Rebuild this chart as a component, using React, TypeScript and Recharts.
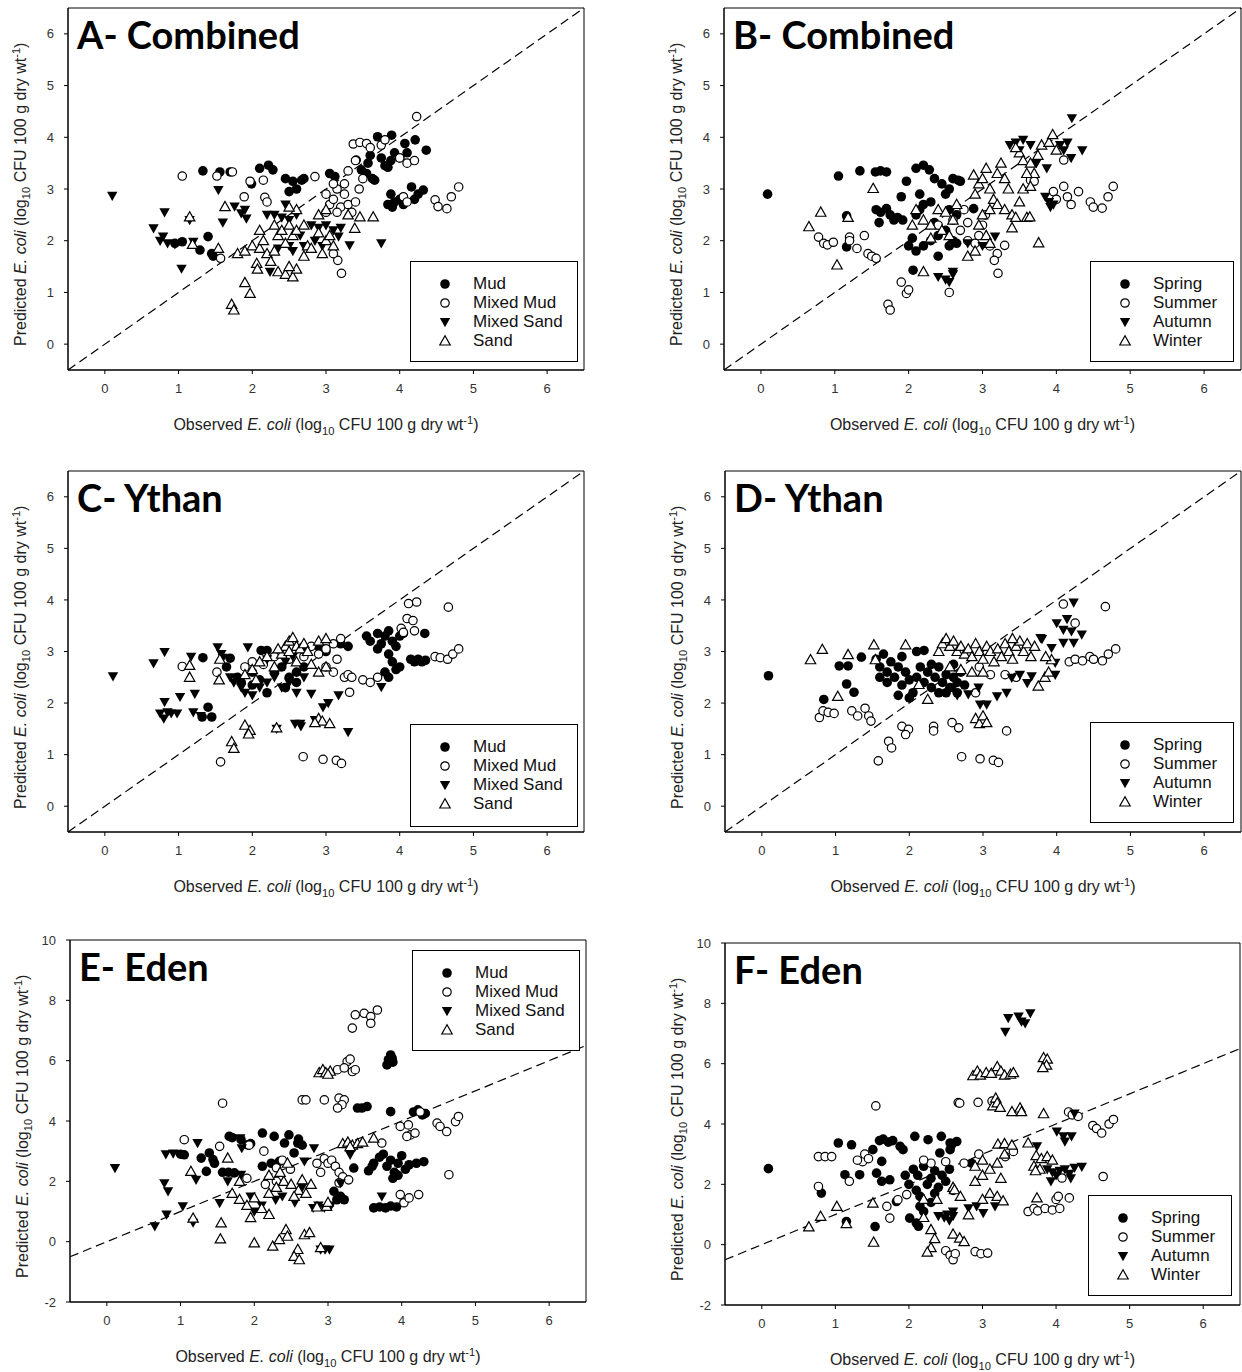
import React from 'react';
import { ScatterChart, Scatter, XAxis, YAxis, ReferenceLine, ReferenceArea } from 'recharts';

type Pt = [number, number];

const xTicks = [0, 1, 2, 3, 4, 5, 6];
const yTicksSmall = [0, 1, 2, 3, 4, 5, 6];
const yTicksEden = [-2, 0, 2, 4, 6, 8, 10];
const sedimentNames = ['Mud', 'Mixed Mud', 'Mixed Sand', 'Sand'];
const seasonNames = ['Spring', 'Summer', 'Autumn', 'Winter'];

// ---- A: combined model, by sediment ----
const combinedMud: Pt[] = [
  [1.33, 3.35], [1.56, 3.33], [1.7, 3.33], [1.4, 2.08], [1.29, 1.82], [1.45, 1.75], [1.47, 1.7], [0.95, 1.95], [1.05, 1.98],
  [2.1, 3.4], [2.22, 3.46], [2.28, 3.37], [1.99, 3.1], [2.45, 3.2], [2.55, 3.15], [2.6, 3.0], [2.7, 3.2], [2.5, 2.95],
  [2.67, 3.17], [3.05, 3.3], [3.12, 3.24], [3.41, 3.56], [3.48, 3.37], [3.57, 3.5], [3.63, 3.2], [3.66, 3.17],
  [3.7, 4.01], [3.89, 4.04], [4.07, 3.88], [4.21, 3.95], [4.36, 3.75], [3.84, 3.42], [3.88, 3.55], [3.93, 3.7],
  [3.75, 3.6], [3.8, 3.45], [4.0, 3.6], [4.1, 3.7], [3.6, 3.65], [3.55, 3.3],
  [3.84, 2.7], [3.88, 2.9], [3.93, 2.75], [3.9, 2.65], [4.0, 2.8], [4.05, 2.7], [4.16, 3.04], [4.32, 2.98], [4.2, 2.8], [4.25, 2.9],
];
const combinedMixedMud: Pt[] = [
  [1.05, 3.25], [1.52, 3.25], [1.73, 3.33], [1.57, 1.66], [1.89, 2.85], [1.97, 3.15], [2.17, 2.84], [2.15, 3.17], [2.2, 2.75],
  [2.85, 3.24], [3.0, 2.9], [3.05, 2.7], [3.1, 2.8], [3.15, 3.0], [3.2, 2.65], [3.25, 2.9], [3.3, 2.7], [3.35, 2.55],
  [3.4, 2.75], [3.15, 2.55], [3.25, 3.1], [3.3, 3.35], [3.4, 3.55], [3.45, 3.0], [3.5, 3.2], [3.1, 3.1], [3.0, 2.55],
  [3.37, 3.87], [3.46, 3.9], [3.55, 3.88], [3.6, 3.8], [3.75, 3.85], [3.8, 3.95], [4.0, 3.6], [4.1, 3.5], [4.2, 3.55], [4.23, 4.4],
  [4.48, 2.79], [4.52, 2.66], [4.64, 2.62], [4.7, 2.85], [4.8, 3.04], [4.05, 2.85], [4.1, 2.75],
  [3.16, 1.62], [3.21, 1.37], [3.1, 1.75],
];
const combinedMixedSand: Pt[] = [
  [0.1, 2.87], [0.81, 2.55], [0.66, 2.24], [0.79, 2.08], [0.75, 2.0], [0.85, 1.95], [0.95, 1.93], [1.04, 1.46], [1.2, 1.98],
  [1.54, 2.98], [1.6, 2.35], [1.76, 2.66], [1.85, 2.53], [1.92, 2.43], [1.9, 2.6], [2.24, 1.4], [1.15, 2.4],
  [2.3, 2.5], [2.4, 2.45], [2.5, 2.4], [2.6, 2.5], [2.45, 2.7], [2.2, 2.5], [2.5, 1.9], [2.55, 1.8], [2.7, 1.9], [2.35, 1.85], [2.65, 2.1],
  [2.8, 2.3], [2.9, 2.25], [3.0, 2.3], [3.1, 2.2], [3.2, 2.25], [3.17, 2.08], [3.32, 1.91], [3.75, 1.95], [2.85, 2.0], [2.95, 1.9],
];
const combinedSand: Pt[] = [
  [1.15, 2.46], [1.19, 1.93], [1.54, 1.85], [1.63, 2.66], [1.9, 1.19], [1.97, 0.98], [1.72, 0.77], [1.75, 0.66], [2.06, 1.56], [2.07, 1.45],
  [1.8, 1.75], [1.9, 1.8], [2.0, 1.9], [2.1, 1.85], [2.15, 2.0], [2.2, 1.75], [2.3, 1.8], [2.35, 2.1], [2.4, 2.2], [2.5, 2.3],
  [2.55, 2.1], [2.6, 2.2], [2.3, 2.3], [2.1, 2.2], [2.45, 1.95], [2.25, 1.6], [2.35, 1.4], [2.45, 1.35], [2.55, 1.3], [2.6, 1.45],
  [2.5, 1.5], [2.7, 1.7], [2.75, 1.9], [2.6, 2.6], [2.5, 2.65], [2.7, 2.3], [2.9, 2.15], [3.0, 2.0], [3.1, 1.9], [2.8, 1.85],
  [2.95, 1.75], [3.05, 2.1], [3.46, 2.46], [3.64, 2.46], [3.39, 2.24], [3.3, 2.5], [2.9, 2.5], [3.0, 2.6],
];

// ---- B: combined model, by season ----
const combinedSpring: Pt[] = [
  [0.09, 2.9], [1.05, 3.25], [1.34, 3.35], [1.55, 3.33], [1.62, 3.35], [1.7, 3.33], [1.16, 2.48], [1.16, 1.88],
  [1.56, 2.6], [1.62, 2.55], [1.7, 2.62], [1.75, 2.5], [1.8, 2.4], [1.85, 2.45], [1.92, 2.4], [1.6, 2.35],
  [1.9, 2.85], [1.97, 3.15], [2.1, 3.4], [2.2, 3.46], [2.28, 3.37], [2.15, 2.9], [2.2, 2.7], [2.15, 2.6], [2.1, 2.5],
  [2.06, 1.43], [2.0, 1.9], [2.05, 2.05], [2.1, 1.8], [2.2, 1.9], [2.3, 2.0], [2.35, 2.35], [2.4, 2.1], [2.5, 2.2],
  [2.55, 2.6], [2.5, 2.9], [2.45, 3.1], [2.6, 3.2], [2.7, 3.15], [2.55, 3.0], [2.35, 3.2], [2.65, 2.5], [2.55, 1.9],
  [2.4, 1.7], [2.67, 3.17], [2.88, 2.62], [2.6, 2.0], [2.65, 1.95], [2.3, 2.75],
];
const combinedSummer: Pt[] = [
  [0.78, 2.07], [0.85, 1.95], [0.9, 1.92], [0.98, 1.97], [1.2, 2.07], [1.3, 1.85], [1.4, 2.1], [1.45, 1.75], [1.5, 1.7], [1.56, 1.66],
  [1.9, 1.2], [1.97, 0.98], [2.0, 1.05], [1.72, 0.77], [1.75, 0.66], [2.55, 1.0], [2.4, 2.3], [2.6, 2.4], [2.7, 2.2], [2.8, 2.0],
  [2.9, 1.95], [3.1, 1.9], [3.2, 1.75], [3.16, 1.62], [3.21, 1.37], [3.0, 2.3], [2.75, 2.6], [2.95, 2.1],
  [3.65, 3.17], [3.7, 3.15], [3.96, 2.95], [4.0, 2.8], [4.1, 3.05], [4.15, 2.85], [4.2, 2.7], [4.3, 2.95],
  [4.46, 2.75], [4.5, 2.65], [4.62, 2.63], [4.7, 2.85], [4.77, 3.05], [3.3, 1.91], [3.04, 2.5], [2.8, 2.35], [4.1, 3.56], [1.2, 2.0],
];
const combinedAutumn: Pt[] = [
  [2.4, 1.3], [2.5, 1.25], [2.55, 1.2], [2.6, 1.35], [4.21, 4.37], [3.37, 3.85], [3.45, 3.9], [3.55, 3.95], [3.65, 3.85],
  [3.5, 3.75], [4.1, 3.75], [4.15, 3.9], [4.35, 3.75], [4.2, 3.6], [4.05, 3.85], [3.87, 3.4], [3.85, 2.85], [3.9, 2.75],
  [3.92, 2.65], [3.96, 2.7], [3.17, 2.08], [2.6, 1.4], [2.8, 1.95], [3.0, 1.9], [3.73, 3.5],
];
const combinedWinter: Pt[] = [
  [1.52, 3.01], [0.81, 2.55], [0.65, 2.27], [1.03, 1.53], [1.18, 2.45], [2.1, 2.6], [2.2, 2.4], [2.05, 2.3], [2.3, 2.3],
  [2.4, 2.6], [2.5, 2.55], [2.6, 2.4], [2.65, 2.7], [2.45, 2.2], [2.2, 1.4], [2.3, 2.05], [2.55, 2.1], [2.88, 3.27],
  [2.9, 2.9], [2.95, 3.1], [3.0, 3.2], [3.05, 3.4], [3.1, 3.0], [3.15, 2.8], [3.2, 3.3], [3.25, 3.5], [3.3, 3.2],
  [3.35, 3.0], [3.2, 2.7], [3.3, 2.6], [3.1, 2.6], [3.4, 2.5], [3.45, 2.45], [3.6, 2.45], [3.4, 2.25], [3.0, 2.5],
  [2.95, 2.3], [3.05, 2.1], [3.1, 1.95], [2.9, 1.8], [2.8, 1.7], [3.7, 3.3], [3.75, 3.65], [3.5, 3.7], [3.55, 3.55],
  [3.45, 3.8], [3.8, 3.85], [3.9, 3.9], [3.95, 4.05], [4.0, 3.75], [3.65, 3.5], [3.6, 3.3], [3.55, 3.0], [3.5, 2.75],
  [3.65, 3.05], [3.76, 1.96], [3.64, 2.46],
];

// ---- C: Ythan model, by sediment ----
const ythanMud: Pt[] = [
  [1.33, 2.88], [1.65, 2.7], [1.7, 2.87], [1.4, 1.92], [1.45, 1.73], [1.32, 1.73], [2.12, 3.02], [2.2, 3.02],
  [1.8, 2.5], [1.85, 2.4], [2.0, 2.35], [2.1, 2.45], [2.3, 2.6], [2.4, 2.7], [2.5, 2.5], [2.6, 2.6], [2.7, 2.7],
  [2.6, 2.4], [2.45, 2.3], [2.2, 2.2], [2.0, 2.6], [2.9, 3.1], [3.0, 3.0], [3.2, 3.15], [3.3, 3.1], [3.55, 3.3],
  [3.6, 3.2], [3.7, 3.35], [3.75, 3.15], [3.8, 3.3], [3.85, 3.4], [3.9, 3.2], [3.95, 3.1], [4.0, 3.3], [4.05, 3.35],
  [4.34, 3.35], [3.7, 3.05], [3.85, 2.95], [3.9, 2.8], [3.95, 2.65], [3.8, 2.6], [3.85, 2.5], [4.0, 2.7],
  [4.15, 2.85], [4.2, 2.8], [4.25, 2.85], [4.3, 2.8], [4.35, 2.83],
];
const ythanMixedMud: Pt[] = [
  [1.05, 2.71], [1.52, 2.6], [1.9, 2.7], [1.57, 0.86], [2.0, 2.8], [2.15, 2.75], [2.3, 2.9], [2.5, 2.85], [2.7, 2.9],
  [2.8, 3.1], [2.9, 2.95], [3.0, 3.05], [3.1, 3.15], [3.2, 3.25], [3.15, 2.85], [3.0, 2.7], [3.1, 2.6], [3.25, 2.5],
  [3.3, 2.55], [3.35, 2.5], [3.5, 2.45], [3.6, 2.4], [3.7, 2.5], [3.32, 2.21], [4.12, 3.93], [4.23, 3.96], [4.66, 3.86],
  [4.02, 3.45], [4.1, 3.64], [4.18, 3.6], [4.05, 3.37], [4.2, 3.4], [4.48, 2.9], [4.55, 2.88], [4.65, 2.85], [4.72, 2.95],
  [4.8, 3.05], [2.69, 0.96], [2.96, 0.91], [3.14, 0.89], [3.21, 0.83],
];
const ythanMixedSand: Pt[] = [
  [0.11, 2.52], [0.66, 2.77], [0.81, 2.99], [1.17, 2.9], [1.53, 3.08], [1.58, 2.95], [1.6, 2.88], [1.94, 3.08],
  [0.81, 2.02], [1.02, 2.12], [1.22, 2.18], [0.75, 1.8], [0.8, 1.7], [0.85, 1.82], [0.9, 1.8], [0.98, 1.8],
  [1.2, 1.82], [1.3, 1.75], [2.33, 1.5], [2.58, 1.6], [1.7, 2.5], [1.75, 2.4], [1.85, 2.3], [1.9, 2.2], [2.0, 2.15],
  [2.1, 2.3], [2.2, 2.4], [2.3, 2.5], [2.4, 2.3], [2.5, 2.4], [2.6, 2.2], [2.55, 2.9], [2.7, 2.5], [2.8, 2.18],
  [3.17, 2.15], [2.96, 1.92], [3.03, 2.0], [2.85, 1.67], [3.3, 1.44], [2.65, 1.6], [2.66, 1.55], [3.75, 2.31],
  [2.7, 3.0], [2.45, 2.8], [2.2, 2.85],
];
const ythanSand: Pt[] = [
  [1.15, 2.73], [1.15, 2.5], [1.55, 2.45], [1.56, 2.85], [1.9, 1.57], [1.97, 1.47], [1.95, 1.4], [1.72, 1.25], [1.75, 1.12],
  [2.33, 1.52], [2.4, 2.95], [2.45, 3.1], [2.5, 3.2], [2.55, 3.27], [2.6, 3.1], [2.65, 3.05], [2.7, 3.15], [2.75, 3.0],
  [2.5, 3.0], [2.35, 3.05], [2.2, 2.9], [2.1, 2.8], [2.0, 2.65], [1.9, 2.55], [2.05, 2.45], [2.3, 2.7], [2.6, 2.8],
  [2.8, 2.75], [2.9, 2.6], [3.0, 2.7], [2.9, 1.7], [2.95, 1.65], [3.05, 1.6], [2.85, 1.62], [2.9, 3.2], [3.0, 3.25],
];

// ---- D: Ythan model, by season ----
const ythanSpring: Pt[] = [
  [0.09, 2.53], [1.05, 2.72], [1.17, 2.72], [1.15, 2.37], [1.25, 2.21], [0.84, 2.07], [1.35, 2.89],
  [1.55, 2.85], [1.6, 2.7], [1.65, 2.95], [1.7, 2.6], [1.75, 2.8], [1.6, 2.5], [1.7, 2.4], [1.8, 2.5], [1.85, 2.7],
  [1.9, 2.35], [1.95, 2.6], [2.0, 2.45], [2.05, 2.2], [2.1, 2.5], [2.15, 2.7], [2.2, 2.4], [2.25, 2.6], [2.3, 2.3],
  [2.35, 2.5], [2.4, 2.7], [2.45, 2.4], [2.5, 2.55], [2.55, 2.3], [2.6, 2.5], [2.65, 2.4], [2.1, 3.0], [2.2, 3.02],
  [1.85, 2.15], [2.0, 2.1], [2.4, 2.2], [2.5, 2.2], [2.6, 2.75], [2.3, 2.75], [1.9, 2.9], [2.7, 2.6], [2.75, 2.35], [2.65, 2.2],
];
const ythanSummer: Pt[] = [
  [0.78, 1.72], [0.83, 1.85], [0.9, 1.82], [0.98, 1.8], [1.22, 1.85], [1.3, 1.75], [1.4, 1.9], [1.45, 1.75], [1.48, 1.65],
  [1.9, 1.55], [1.99, 1.49], [1.95, 1.39], [1.72, 1.26], [1.76, 1.13], [2.33, 1.55], [2.33, 1.46], [2.58, 1.62], [1.58, 0.88],
  [2.67, 1.52], [3.32, 1.46], [2.71, 0.96], [2.96, 0.92], [3.14, 0.89], [3.21, 0.85], [4.09, 3.92], [4.66, 3.87], [4.25, 3.55],
  [4.17, 2.8], [4.25, 2.85], [4.35, 2.82], [4.45, 2.9], [4.5, 2.85], [4.62, 2.82], [4.7, 2.95], [4.8, 3.05],
  [2.95, 2.7], [3.1, 2.55], [3.3, 2.55], [3.45, 2.5], [2.9, 2.2],
];
const ythanAutumn: Pt[] = [
  [4.23, 3.95], [4.14, 3.63], [4.0, 3.55], [4.09, 3.42], [4.2, 3.39], [4.34, 3.33], [4.23, 3.17], [4.09, 3.17], [3.93, 3.07],
  [3.78, 3.26], [3.8, 3.24], [3.98, 2.78], [3.98, 2.55], [3.5, 2.55], [3.6, 2.39], [3.66, 2.52], [3.39, 2.49], [2.94, 2.3],
  [3.19, 2.13], [3.32, 2.2], [2.8, 2.17], [2.96, 1.97], [3.05, 1.97], [2.6, 2.3], [2.65, 2.15],
];
const ythanWinter: Pt[] = [
  [0.66, 2.84], [0.82, 3.04], [1.17, 2.94], [1.52, 3.13], [1.95, 3.13], [1.54, 2.84], [1.03, 2.13], [2.25, 2.07], [2.13, 2.36],
  [2.4, 3.0], [2.45, 3.15], [2.5, 3.25], [2.55, 3.1], [2.6, 3.2], [2.65, 3.0], [2.7, 3.1], [2.75, 2.95], [2.8, 3.05],
  [2.85, 2.9], [2.9, 3.15], [2.95, 3.0], [3.0, 2.85], [3.05, 3.1], [3.1, 3.0], [3.15, 2.8], [3.2, 3.05], [3.25, 2.9],
  [3.3, 3.15], [3.35, 3.0], [3.4, 2.85], [3.45, 3.1], [3.5, 3.2], [3.55, 3.0], [3.6, 3.15], [3.65, 2.9], [3.7, 3.1],
  [3.4, 3.25], [3.0, 2.6], [2.85, 2.6], [3.75, 2.33], [3.84, 2.5], [3.89, 2.6], [3.93, 2.84], [3.85, 2.9],
  [2.9, 1.7], [2.95, 1.6], [3.0, 1.75], [3.05, 1.62], [2.55, 2.7], [2.7, 2.65],
];

// ---- E: Eden model, by sediment ----
const edenMud: Pt[] = [
  [1.0, 2.9], [1.05, 2.88], [1.28, 2.77], [1.39, 2.94], [1.44, 2.72], [1.46, 2.6], [1.35, 2.33], [1.66, 3.49], [1.7, 3.45],
  [1.57, 2.3], [1.65, 2.3], [1.73, 2.28], [1.82, 3.38], [1.91, 3.21], [1.95, 3.25], [2.11, 3.6], [2.27, 3.49], [2.47, 3.54],
  [2.59, 3.27], [2.41, 3.27], [2.54, 2.94], [2.11, 2.5], [2.23, 2.6], [2.34, 2.66], [2.6, 3.4], [2.65, 3.2],
  [3.4, 4.43], [3.46, 4.43], [3.53, 4.48], [3.85, 4.31], [4.16, 4.3], [4.22, 4.37], [4.28, 4.2], [4.32, 4.25],
  [3.85, 6.19], [3.82, 6.03], [3.8, 5.86], [3.87, 6.08], [3.88, 5.95],
  [3.62, 2.6], [3.7, 2.8], [3.75, 2.9], [3.8, 2.5], [3.85, 2.7], [3.9, 2.3], [3.95, 2.6], [4.0, 2.85], [4.05, 2.4],
  [4.1, 2.55], [4.2, 2.6], [4.3, 2.65], [3.88, 2.1], [3.95, 2.2], [3.35, 2.44], [3.55, 2.35], [3.6, 2.5],
  [3.08, 1.67], [3.17, 1.5], [3.22, 1.39], [3.12, 1.39], [3.62, 1.12], [3.7, 1.15], [3.78, 1.12], [3.85, 1.18], [3.93, 1.15],
];
const edenMixedMud: Pt[] = [
  [1.05, 3.38], [1.57, 4.59], [2.65, 4.7], [1.53, 3.16], [1.93, 3.2], [2.13, 3.0], [2.3, 2.45], [2.38, 2.7], [2.49, 2.4],
  [2.15, 1.9], [2.3, 2.0], [1.9, 2.1], [3.37, 7.52], [3.49, 7.57], [3.58, 7.46], [3.67, 7.68], [3.58, 7.24], [3.33, 7.08],
  [3.13, 5.7], [3.26, 5.97], [3.22, 5.76], [3.33, 5.64], [3.37, 5.7], [3.3, 6.05], [2.7, 4.7], [2.95, 4.7], [3.15, 4.76],
  [3.22, 4.7], [3.19, 4.54], [3.13, 4.43], [4.25, 4.3], [4.48, 3.93], [4.52, 3.82], [4.61, 3.65], [4.73, 3.98], [4.77, 4.15],
  [3.98, 3.82], [4.09, 3.87], [4.12, 3.54], [4.18, 3.6], [4.07, 3.49], [3.73, 3.27], [4.64, 2.22],
  [2.85, 2.6], [2.95, 2.75], [3.0, 2.6], [3.05, 2.7], [3.1, 2.5], [3.15, 2.3], [3.2, 2.15], [3.28, 2.05], [2.9, 2.3], [3.15, 1.95],
  [3.98, 1.56], [4.03, 1.29], [4.23, 1.56], [4.1, 1.45],
];
const edenMixedSand: Pt[] = [
  [0.11, 2.44], [1.23, 3.27], [0.8, 2.9], [0.9, 2.92], [1.81, 3.43], [1.83, 3.1], [1.82, 2.22], [1.64, 2.0], [1.21, 2.05],
  [0.78, 1.94], [0.83, 1.67], [1.03, 1.17], [0.81, 0.9], [0.65, 0.51], [1.17, 0.63], [1.53, 1.28], [2.29, 1.39], [2.38, 1.5],
  [2.0, 1.0], [2.1, 1.2], [1.95, 1.5], [2.81, 3.1], [2.68, 2.66], [3.3, 2.88], [3.17, 1.94], [3.73, 1.5], [2.8, 1.12],
  [2.87, 1.2], [2.95, 1.12], [3.04, 1.2], [2.9, -0.26], [2.96, -0.26], [3.02, -0.26], [2.55, 1.3], [2.65, 1.8],
];
const edenSand: Pt[] = [
  [1.64, 2.77], [1.14, 2.33], [1.17, 0.78], [1.55, 0.62], [1.54, 0.09], [1.7, 1.6], [1.8, 1.4], [1.9, 1.2], [2.0, 1.45],
  [2.1, 1.1], [2.2, 0.9], [1.95, 0.8], [2.2, 1.6], [2.3, 1.8], [2.4, 2.0], [2.5, 1.9], [2.6, 1.7], [2.7, 1.6], [2.0, -0.04],
  [2.25, -0.15], [2.34, 0.07], [2.43, 0.4], [2.45, 0.18], [2.59, -0.26], [2.54, -0.49], [2.61, -0.6], [2.68, 0.23],
  [2.75, 0.3], [2.9, -0.2], [2.88, 5.6], [2.93, 5.7], [2.97, 5.6], [3.03, 5.65], [3.0, 5.55], [3.2, 3.25], [3.27, 3.3],
  [3.33, 3.2], [3.4, 3.25], [3.47, 3.3], [3.3, 3.15], [3.62, 3.43], [2.54, 1.5], [2.65, 2.05], [2.77, 1.9], [2.85, 1.15],
  [2.98, 1.17], [3.0, 1.3], [2.2, 2.2], [2.35, 2.3], [1.8, 2.0], [2.45, 2.6],
];

// ---- F: Eden model, by season ----
const edenSpring: Pt[] = [
  [0.09, 2.52], [1.04, 3.37], [1.22, 3.31], [1.51, 3.15], [1.6, 3.45], [1.65, 3.5], [1.72, 3.4], [1.78, 3.45], [1.63, 2.76],
  [1.13, 2.32], [1.33, 2.32], [1.56, 2.37], [1.63, 2.1], [1.74, 2.15], [0.81, 1.71], [1.15, 0.77], [1.54, 0.6], [1.83, 1.43],
  [2.01, 0.88], [2.1, 0.72], [2.13, 0.61], [2.15, 1.27], [1.88, 3.26], [1.92, 3.15], [2.08, 3.59], [2.26, 3.48], [2.44, 3.59],
  [2.56, 3.37], [2.42, 3.04], [2.56, 3.15], [2.65, 3.42], [2.58, 3.31], [2.85, 2.7], [2.06, 2.5], [2.12, 2.3], [2.2, 2.6],
  [2.25, 2.0], [2.3, 2.2], [2.35, 2.45], [2.4, 1.9], [2.45, 2.3], [2.5, 2.1], [2.55, 2.5], [2.6, 1.8], [2.1, 1.8], [2.0, 2.0],
  [2.15, 1.6], [2.35, 1.7], [1.95, 2.3], [2.3, 1.4], [2.2, 1.1],
];
const edenSummer: Pt[] = [
  [1.55, 4.6], [2.67, 4.71], [0.77, 2.92], [0.86, 2.92], [0.95, 2.92], [1.37, 2.75], [1.4, 3.0], [1.45, 2.85], [1.3, 2.8],
  [1.19, 2.1], [0.77, 1.93], [1.7, 1.27], [1.74, 0.88], [1.85, 1.49], [1.97, 1.66], [2.3, 2.7], [2.5, 2.75], [2.75, 2.7],
  [2.5, -0.2], [2.56, -0.35], [2.6, -0.5], [2.63, -0.3], [2.9, -0.23], [2.98, -0.3], [3.07, -0.28], [2.69, 4.69], [2.94, 4.72],
  [3.13, 4.76], [4.17, 4.4], [4.22, 4.3], [4.3, 4.25], [4.5, 3.95], [4.55, 3.85], [4.62, 3.7], [4.72, 4.0], [4.78, 4.15],
  [3.42, 3.09], [3.31, 2.92], [2.95, 3.0], [4.08, 2.21], [4.64, 2.26], [3.62, 1.1], [3.7, 1.2], [3.75, 1.12], [3.85, 1.2],
  [3.95, 1.15], [4.05, 1.2], [4.0, 1.5], [4.03, 1.6], [4.18, 1.55], [2.2, 2.8],
];
const edenAutumn: Pt[] = [
  [3.35, 7.51], [3.49, 7.56], [3.58, 7.34], [3.65, 7.67], [3.31, 7.06], [3.53, 7.4], [4.25, 4.35], [4.01, 3.75], [4.1, 3.59],
  [4.21, 3.59], [4.12, 3.42], [3.74, 3.26], [3.88, 2.5], [3.95, 2.4], [4.0, 2.3], [4.05, 2.45], [4.12, 2.5], [4.18, 2.35],
  [4.25, 2.55], [4.35, 2.58], [3.93, 2.1], [4.2, 2.2], [3.17, 1.27], [2.92, 1.27], [3.01, 1.05], [2.81, 1.21], [2.6, 1.1],
  [2.4, 0.95], [2.48, 0.9], [2.55, 0.8], [2.6, 0.95], [2.52, 1.0],
];
const edenWinter: Pt[] = [
  [1.02, 1.27], [0.8, 0.94], [0.64, 0.59], [1.15, 0.7], [1.51, 1.38], [1.52, 0.08], [2.2, 0.9], [2.3, 0.5], [2.35, 0.2],
  [2.3, -0.1], [2.25, -0.25], [2.6, 0.35], [2.69, 0.22], [2.75, 0.1], [2.2, 1.5], [2.38, 1.5], [2.6, 1.9], [2.62, 1.82],
  [2.7, 1.6], [2.87, 5.6], [2.93, 5.75], [2.97, 5.62], [3.05, 5.7], [3.12, 5.68], [3.2, 5.9], [3.25, 5.75], [3.3, 5.62],
  [3.38, 5.65], [3.42, 5.7], [3.83, 6.2], [3.88, 6.15], [3.87, 5.95], [3.82, 5.87], [3.14, 4.6], [3.18, 4.86], [3.2, 4.7],
  [3.24, 4.55], [3.4, 4.41], [3.51, 4.53], [3.53, 4.41], [3.83, 4.34], [3.21, 3.33], [3.3, 3.35], [3.4, 3.3], [3.62, 3.37],
  [3.73, 2.95], [3.8, 2.85], [3.88, 2.92], [3.95, 2.8], [3.7, 2.6], [3.78, 2.5], [3.72, 2.45], [3.74, 1.55], [3.0, 1.5],
  [3.1, 1.7], [3.2, 1.6], [3.28, 1.45], [2.81, 0.99], [2.9, 2.1], [3.0, 2.3], [3.1, 2.5], [3.2, 2.7], [3.25, 2.2],
  [3.3, 3.0], [3.0, 2.8], [2.9, 2.6],
];

type Marker = 'dot' | 'ring' | 'down' | 'up';
const markers: Marker[] = ['dot', 'ring', 'down', 'up'];

const MarkerShape = ({ cx, cy, kind }: { cx: number; cy: number; kind: Marker }) => {
  if (cx == null || cy == null) return null;
  if (kind === 'dot') return <circle cx={cx} cy={cy} r={4.8} fill="#000" />;
  if (kind === 'ring') return <circle cx={cx} cy={cy} r={4.2} fill="#fff" stroke="#000" strokeWidth={1.2} />;
  if (kind === 'down')
    return <polygon points={`${cx - 5.2},${cy - 4} ${cx + 5.2},${cy - 4} ${cx},${cy + 5.2}`} fill="#000" />;
  return (
    <polygon points={`${cx},${cy - 5.2} ${cx - 5.2},${cy + 4} ${cx + 5.2},${cy + 4}`} fill="#fff" stroke="#000" strokeWidth={1.2} />
  );
};

const toPoints = (arr: Pt[]) => arr.map(([x, y]) => ({ x, y }));

const fontSans = '"Liberation Sans", Arial, sans-serif';

interface Box { left: number; top: number; width: number; height: number }

interface PanelProps {
  left: number;
  top: number;
  plotW: number;
  plotH: number;
  yDomain: [number, number];
  yTicks: number[];
  series: Pt[][];
  names: string[];
  title: string;
  legend: Box;
}

const AxisTitle = ({ lead }: { lead: string }) => (
  <>
    {lead} <i>E. coli</i> (log<sub style={{ fontSize: '70%' }}>10</sub> CFU 100 g dry wt<sup style={{ fontSize: '70%' }}>-1</sup>)
  </>
);

const Panel: React.FC<PanelProps> = ({ left, top, plotW, plotH, yDomain, yTicks, series, names, title, legend }) => {
  const axisW = 67;
  const tickStyle = { fontSize: 13, fill: '#333', fontFamily: fontSans };
  return (
    <>
      <div style={{ position: 'absolute', left: left - axisW, top: top - 8 }}>
        <ScatterChart width={axisW + plotW + 10} height={8 + plotH + 70} margin={{ top: 8, right: 10, left: 0, bottom: 0 }}>
          <XAxis
            type="number"
            dataKey="x"
            domain={[-0.5, 6.5]}
            ticks={xTicks}
            height={70}
            tickSize={4}
            tickMargin={10}
            tick={tickStyle}
            stroke="#000"
            allowDataOverflow
          />
          <YAxis
            type="number"
            dataKey="y"
            domain={yDomain}
            ticks={yTicks}
            width={axisW}
            tickSize={4}
            tickMargin={10}
            tick={tickStyle}
            stroke="#000"
            allowDataOverflow
          />
          <ReferenceArea x1={-0.5} x2={6.5} y1={yDomain[0]} y2={yDomain[1]} fill="none" stroke="#000" strokeWidth={1} />
          <ReferenceLine
            segment={[{ x: -0.5, y: -0.5 }, { x: 6.5, y: 6.5 }]}
            stroke="#000"
            strokeWidth={1.2}
            strokeDasharray="9 5"
          />
          {series.map((s, i) => (
            <Scatter
              key={names[i]}
              name={names[i]}
              data={toPoints(s)}
              isAnimationActive={false}
              shape={(p: any) => <MarkerShape cx={p.cx} cy={p.cy} kind={markers[i]} />}
            />
          ))}
        </ScatterChart>
      </div>

      <div
        style={{
          position: 'absolute', left: left + 9, top: top + 1,
          fontFamily: 'Lato, "Open Sans", sans-serif', fontWeight: 700, fontSize: 38, lineHeight: '50px', color: '#000',
        }}
      >
        {title}
      </div>

      <div
        style={{
          position: 'absolute', left: left, top: top + plotH + 40, width: plotW, textAlign: 'center',
          fontFamily: fontSans, fontSize: 16, color: '#222', lineHeight: '20px', whiteSpace: 'nowrap',
        }}
      >
        <AxisTitle lead="Observed" />
      </div>

      <div
        style={{
          position: 'absolute', left: left - 47 - 190, top: top + plotH / 2 - 10, width: 380, textAlign: 'center',
          transform: 'rotate(-90deg)', transformOrigin: 'center',
          fontFamily: fontSans, fontSize: 16, color: '#222', lineHeight: '20px', whiteSpace: 'nowrap',
        }}
      >
        <AxisTitle lead="Predicted" />
      </div>

      <div
        style={{
          position: 'absolute', left: legend.left, top: legend.top, width: legend.width, height: legend.height,
          border: '1px solid #000', boxSizing: 'border-box', background: '#fff',
        }}
      >
        {names.map((n, i) => (
          <div key={n} style={{ position: 'absolute', left: 0, top: 12 + i * 19, height: 19, display: 'flex', alignItems: 'center' }}>
            <svg width={70} height={19} style={{ display: 'block' }}>
              <MarkerShape cx={34} cy={10} kind={markers[i]} />
            </svg>
            <span style={{ fontFamily: fontSans, fontSize: 17, color: '#111', marginLeft: -8 }}>{n}</span>
          </div>
        ))}
      </div>
    </>
  );
};

const App: React.FC = () => (
  <div style={{ position: 'absolute', left: 0, top: 0, width: 1242, height: 1372, background: '#fff' }}>
    <Panel
      left={68} top={8} plotW={516} plotH={362} yDomain={[-0.5, 6.5]} yTicks={yTicksSmall}
      series={[combinedMud, combinedMixedMud, combinedMixedSand, combinedSand]} names={sedimentNames}
      title="A- Combined" legend={{ left: 410, top: 261, width: 168, height: 101 }}
    />
    <Panel
      left={724} top={8} plotW={517} plotH={362} yDomain={[-0.5, 6.5]} yTicks={yTicksSmall}
      series={[combinedSpring, combinedSummer, combinedAutumn, combinedWinter]} names={seasonNames}
      title="B- Combined" legend={{ left: 1090, top: 261, width: 144, height: 101 }}
    />
    <Panel
      left={68} top={471} plotW={516} plotH={361} yDomain={[-0.5, 6.5]} yTicks={yTicksSmall}
      series={[ythanMud, ythanMixedMud, ythanMixedSand, ythanSand]} names={sedimentNames}
      title="C- Ythan" legend={{ left: 410, top: 724, width: 168, height: 103 }}
    />
    <Panel
      left={725} top={471} plotW={516} plotH={361} yDomain={[-0.5, 6.5]} yTicks={yTicksSmall}
      series={[ythanSpring, ythanSummer, ythanAutumn, ythanWinter]} names={seasonNames}
      title="D- Ythan" legend={{ left: 1090, top: 722, width: 144, height: 101 }}
    />
    <Panel
      left={70} top={940} plotW={516} plotH={362} yDomain={[-2, 10]} yTicks={yTicksEden}
      series={[edenMud, edenMixedMud, edenMixedSand, edenSand]} names={sedimentNames}
      title="E- Eden" legend={{ left: 412, top: 950, width: 168, height: 101 }}
    />
    <Panel
      left={725} top={943} plotW={515} plotH={362} yDomain={[-2, 10]} yTicks={yTicksEden}
      series={[edenSpring, edenSummer, edenAutumn, edenWinter]} names={seasonNames}
      title="F- Eden" legend={{ left: 1088, top: 1195, width: 144, height: 101 }}
    />
  </div>
);

export default App;
